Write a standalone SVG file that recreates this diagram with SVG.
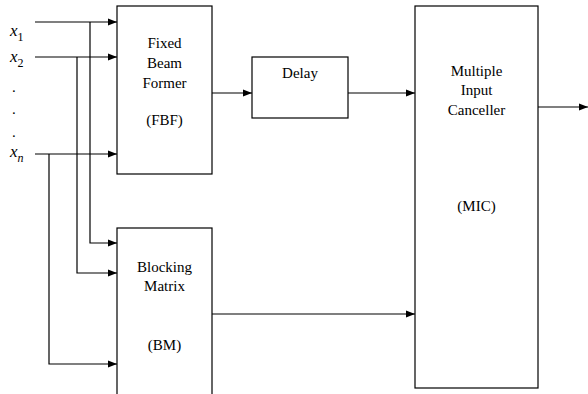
<svg xmlns="http://www.w3.org/2000/svg" width="588" height="394" viewBox="0 0 588 394">
<style>
.box{fill:#fff;stroke:#000;stroke-width:1.2}
.c{fill:none;stroke:#000;stroke-width:1.2}
text{font-family:"Liberation Serif","Times New Roman",serif;font-size:15px;fill:#000}
.m{text-anchor:middle}
.it{font-style:italic;font-size:17px}
.sub{font-size:12px;font-style:normal}
</style>
<defs>
<marker id="ah" markerWidth="9" markerHeight="8" refX="9" refY="4" orient="auto" markerUnits="userSpaceOnUse">
<path d="M0,0.5 L9,4 L0,7.5 z" fill="#000"/>
</marker>
</defs>
<rect width="588" height="394" fill="#fff"/>
<g id="connectors">
<path class="c" d="M35,22 H117" marker-end="url(#ah)"/>
<path class="c" d="M35,57 H117" marker-end="url(#ah)"/>
<path class="c" d="M35,154 H117" marker-end="url(#ah)"/>
<path class="c" d="M90,22 V243 H117" marker-end="url(#ah)"/>
<path class="c" d="M77,57 V273 H117" marker-end="url(#ah)"/>
<path class="c" d="M49,154 V364 H117" marker-end="url(#ah)"/>
<path class="c" d="M212,93 H252" marker-end="url(#ah)"/>
<path class="c" d="M348,93 H415" marker-end="url(#ah)"/>
<path class="c" d="M212,314 H415" marker-end="url(#ah)"/>
<path class="c" d="M538,107 H588" marker-end="url(#ah)"/>
</g>
<g id="inputs">
<text x="10" y="36" class="it">x<tspan class="sub" dy="5">1</tspan></text>
<text x="10" y="62" class="it">x<tspan class="sub" dy="5">2</tspan></text>
<text x="12" y="92">.</text>
<text x="12" y="114">.</text>
<text x="12" y="137">.</text>
<text x="10" y="157" class="it">x<tspan class="sub" dy="5" style="font-style:italic">n</tspan></text>
</g>
<g id="fbf">
<rect class="box" x="117" y="6" width="95" height="168"/>
<text class="m" x="164.5" y="47.5">Fixed</text>
<text class="m" x="164.5" y="67.5">Beam</text>
<text class="m" x="164.5" y="87.5">Former</text>
<text class="m" x="164.5" y="125">(FBF)</text>
</g>
<g id="bm">
<rect class="box" x="117" y="228" width="95" height="180"/>
<text class="m" x="164.5" y="271.5">Blocking</text>
<text class="m" x="164.5" y="291">Matrix</text>
<text class="m" x="164.5" y="350">(BM)</text>
</g>
<g id="delay">
<rect class="box" x="252" y="57" width="96" height="61"/>
<text class="m" x="300" y="78">Delay</text>
</g>
<g id="mic">
<rect class="box" x="415" y="6" width="123" height="382"/>
<text class="m" x="476.5" y="75.5">Multiple</text>
<text class="m" x="476.5" y="95">Input</text>
<text class="m" x="476.5" y="115">Canceller</text>
<text class="m" x="476.5" y="211">(MIC)</text>
</g>
</svg>
